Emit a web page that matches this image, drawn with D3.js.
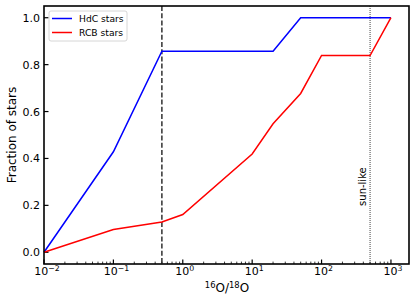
<!DOCTYPE html>
<html>
<head>
<meta charset="utf-8">
<script src="https://cdn.jsdelivr.net/npm/d3@7"></script>
<style>
  body { margin: 0; background: #fff; }
  svg { font-family: "DejaVu Sans", sans-serif; }
</style>
</head>
<body>
<svg id="chart" width="415" height="304"></svg>
<script>
const hdcRatio = [0.01, 0.1, 0.5, 20, 50, 1000];
const hdcFrac = [0, 0.4286, 0.857, 0.857, 1.0, 1.0];
const rcbRatio = [0.01, 0.1, 0.5, 1, 10, 20, 50, 100, 500, 1000];
const rcbFrac = [0, 0.097, 0.129, 0.161, 0.419, 0.548, 0.677, 0.839, 0.839, 1.0];
const yTicks = [0, 0.2, 0.4, 0.6, 0.8, 1.0];
const xTickExps = [-2, -1, 0, 1, 2, 3];
const dashedAt = 0.5;
const sunLikeAt = 500;

const width = 415, height = 304;
const margin = {top: 6, right: 6, bottom: 40, left: 44};

const svg = d3.select("#chart");

const x = d3.scaleLog()
    .domain([0.01, 1820])
    .range([margin.left, width - margin.right]);

const y = d3.scaleLinear()
    .domain([-0.05, 1.05])
    .range([height - margin.bottom, margin.top]);

// minor ticks
const minor = [];
for (let e = -2; e <= 3; e++) {
    for (let k = 2; k <= 9; k++) {
        const v = k * Math.pow(10, e);
        if (v <= x.domain()[1]) minor.push(v);
    }
}

const gx = svg.append("g")
    .attr("transform", `translate(0,${height - margin.bottom})`);
gx.selectAll("line.minor")
    .data(minor)
    .enter().append("line")
    .attr("x1", d => x(d)).attr("x2", d => x(d))
    .attr("y1", 0).attr("y2", -2.4)
    .attr("stroke", "#000").attr("stroke-width", 0.8);
gx.selectAll("line.major")
    .data(xTickExps)
    .enter().append("line")
    .attr("x1", d => x(Math.pow(10, d))).attr("x2", d => x(Math.pow(10, d)))
    .attr("y1", 0).attr("y2", -4.5)
    .attr("stroke", "#000").attr("stroke-width", 1.2);
const xl = gx.selectAll("text.tick")
    .data(xTickExps)
    .enter().append("text")
    .attr("x", d => x(Math.pow(10, d)) + (d < 0 ? 3 : 2))
    .attr("y", 11)
    .attr("text-anchor", "middle")
    .attr("font-size", 11);
xl.append("tspan").text("10");
xl.append("tspan").attr("dy", -4.5).attr("font-size", 7.8).text(d => d < 0 ? "\u2212" + (-d) : d);

const gy = svg.append("g")
    .attr("transform", `translate(${margin.left},0)`);
gy.selectAll("line")
    .data(yTicks)
    .enter().append("line")
    .attr("x1", 0).attr("x2", 4.5)
    .attr("y1", d => y(d)).attr("y2", d => y(d))
    .attr("stroke", "#000").attr("stroke-width", 1.2);
gy.selectAll("text")
    .data(yTicks)
    .enter().append("text")
    .attr("x", -4)
    .attr("y", d => y(d))
    .attr("dy", "0.36em")
    .attr("text-anchor", "end")
    .attr("font-size", 11)
    .text(d => d.toFixed(1));

// reference lines
svg.append("line")
    .attr("x1", x(dashedAt)).attr("x2", x(dashedAt))
    .attr("y1", margin.top).attr("y2", height - margin.bottom)
    .attr("stroke", "#222").attr("stroke-width", 1.4)
    .attr("stroke-dasharray", "5,2.2");
svg.append("line")
    .attr("x1", x(sunLikeAt)).attr("x2", x(sunLikeAt))
    .attr("y1", margin.top).attr("y2", height - margin.bottom)
    .attr("stroke", "#444").attr("stroke-width", 1)
    .attr("stroke-dasharray", "1,1");

svg.append("text")
    .attr("transform", `translate(${x(sunLikeAt) - 4},${y(0.28)}) rotate(-90)`)
    .attr("text-anchor", "middle")
    .attr("font-size", 10)
    .text("sun-like");

const line = d3.line()
    .x(d => x(d[0]))
    .y(d => y(d[1]));

svg.append("path")
    .datum(hdcRatio.map((r, i) => [r, hdcFrac[i]]))
    .attr("d", line)
    .attr("fill", "none")
    .attr("stroke", "#0000ff")
    .attr("stroke-width", 1.5);

svg.append("path")
    .datum(rcbRatio.map((r, i) => [r, rcbFrac[i]]))
    .attr("d", line)
    .attr("fill", "none")
    .attr("stroke", "#ff0000")
    .attr("stroke-width", 1.5);

// frame
svg.append("rect")
    .attr("x", margin.left).attr("y", margin.top)
    .attr("width", width - margin.left - margin.right)
    .attr("height", height - margin.top - margin.bottom)
    .attr("fill", "none")
    .attr("stroke", "#000")
    .attr("stroke-width", 1.6);

// legend
const legend = svg.append("g").attr("transform", "translate(49,11)");
legend.append("rect")
    .attr("width", 78).attr("height", 30)
    .attr("rx", 2)
    .attr("fill", "#fff").attr("fill-opacity", 0.8)
    .attr("stroke", "#ccc").attr("stroke-width", 0.8);
const items = [["HdC stars", "#0000ff"], ["RCB stars", "#ff0000"]];
items.forEach((it, i) => {
    const yy = 7.5 + i * 14;
    legend.append("line")
        .attr("x1", 3).attr("x2", 23)
        .attr("y1", yy).attr("y2", yy)
        .attr("stroke", it[1]).attr("stroke-width", 1.5);
    legend.append("text")
        .attr("x", 30).attr("y", yy)
        .attr("dy", "0.36em")
        .attr("font-size", 9.2)
        .text(it[0]);
});

// axis labels
const xlab = svg.append("text")
    .attr("x", 227)
    .attr("y", 292)
    .attr("text-anchor", "middle")
    .attr("font-size", 12);
xlab.append("tspan").attr("font-size", 8.4).attr("dy", -4.5).text("16");
xlab.append("tspan").attr("dy", 4.5).text("O/");
xlab.append("tspan").attr("font-size", 8.4).attr("dy", -4.5).text("18");
xlab.append("tspan").attr("dy", 4.5).text("O");

svg.append("text")
    .attr("transform", `translate(16,${(margin.top + height - margin.bottom) / 2}) rotate(-90)`)
    .attr("text-anchor", "middle")
    .attr("font-size", 12)
    .text("Fraction of stars");
</script>
</body>
</html>
